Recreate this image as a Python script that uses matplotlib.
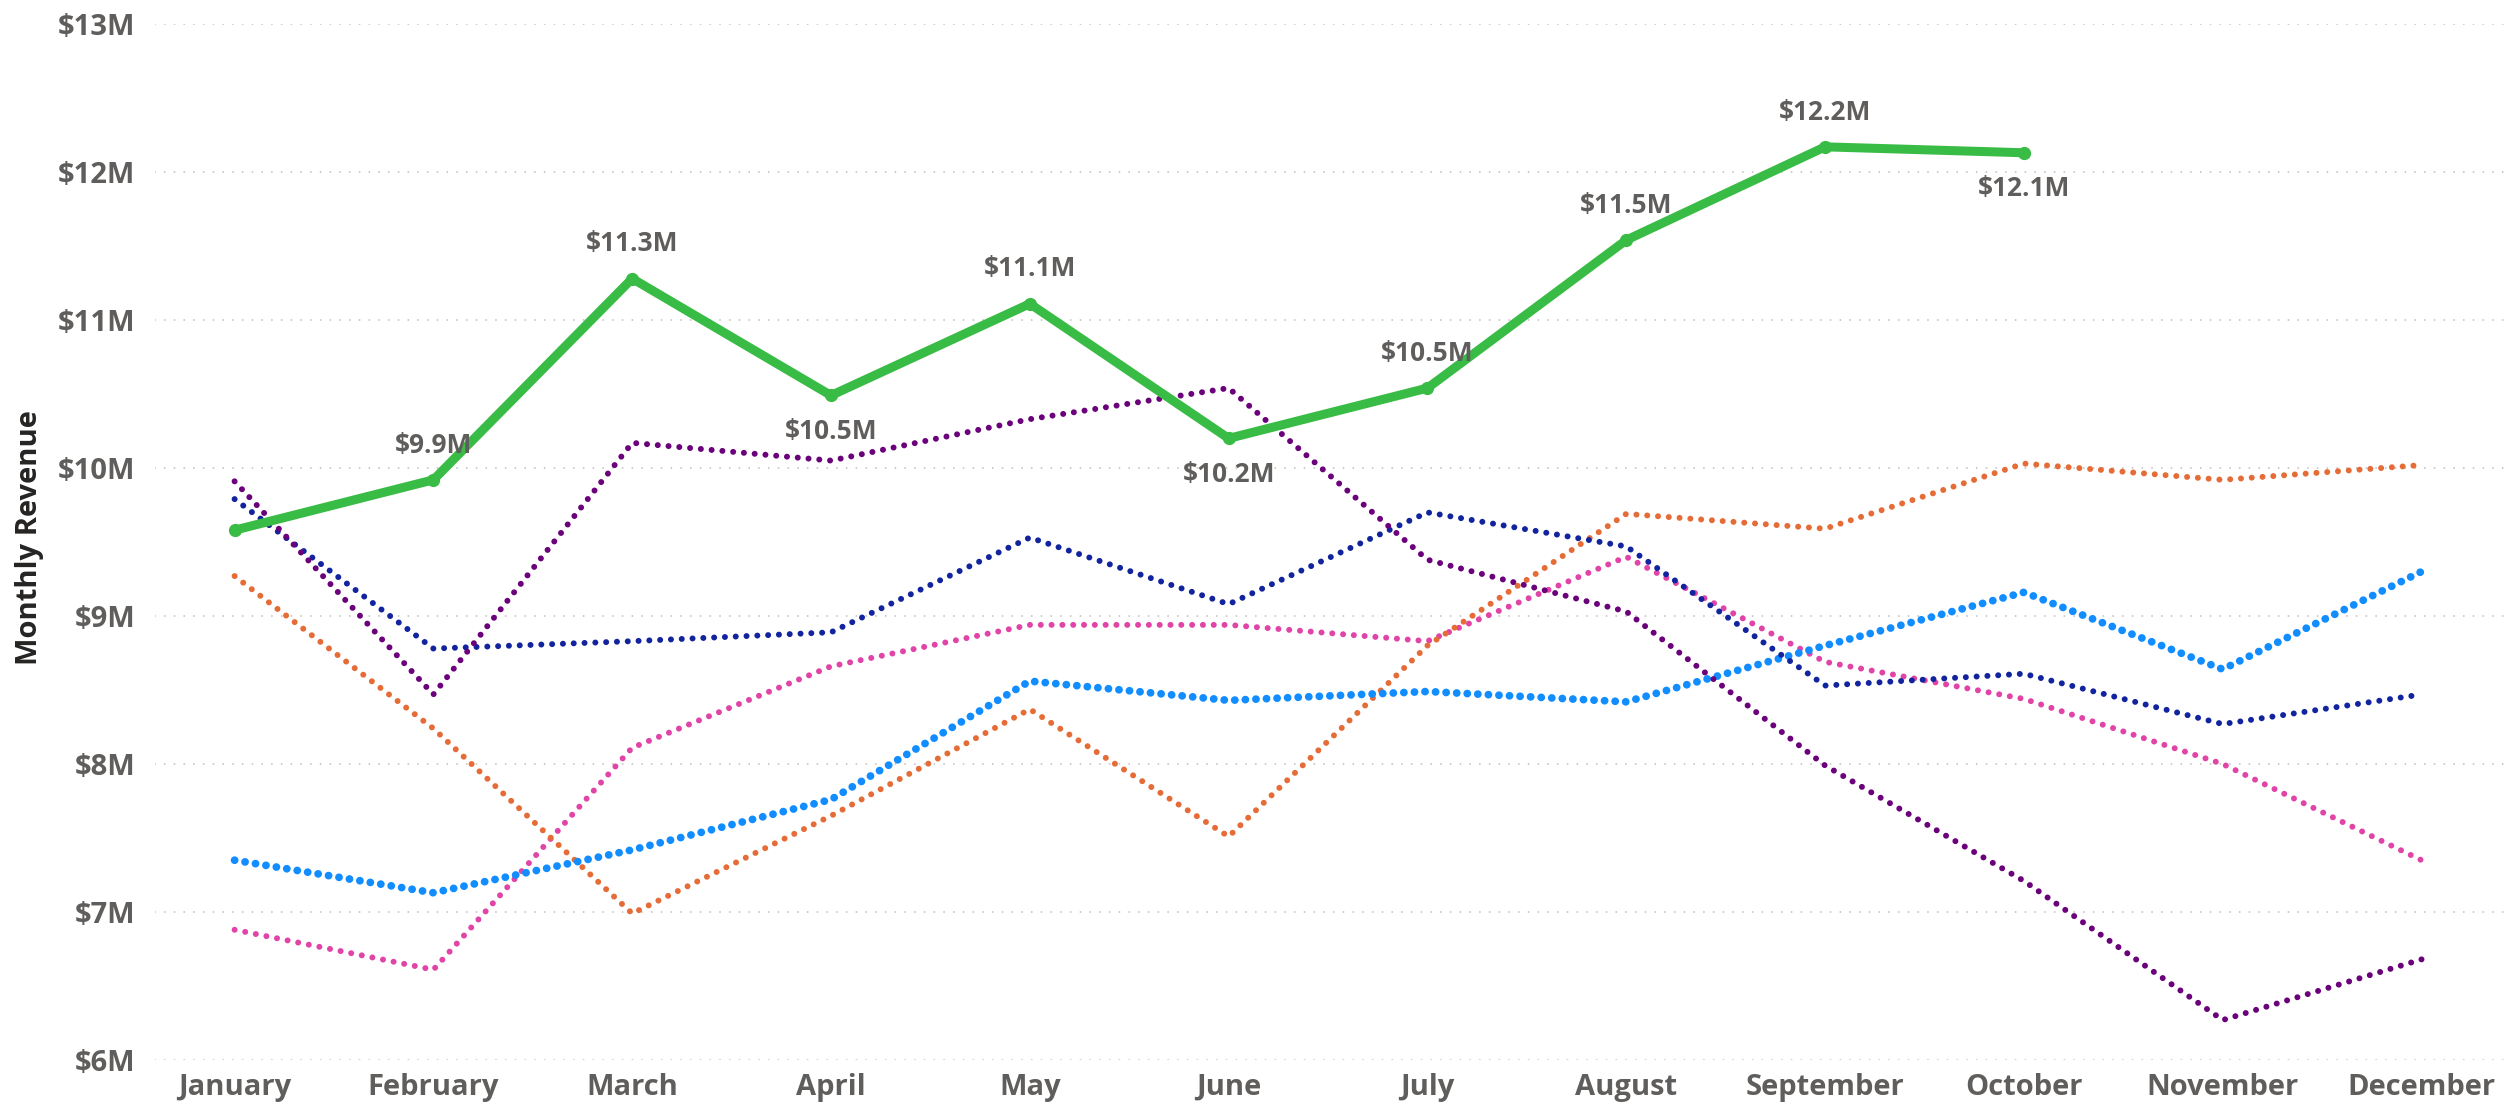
import numpy as np
import matplotlib
matplotlib.use('Agg')
import matplotlib.pyplot as plt
from matplotlib.ticker import FuncFormatter

plt.rcParams['font.family'] = ['Open Sans', 'DejaVu Sans']
plt.rcParams['font.weight'] = 'bold'

months = ["January", "February", "March", "April", "May", "June", "July",
          "August", "September", "October", "November", "December"]

# monthly revenue, $M
current_year = [9.58, 9.92, 11.28, 10.49, 11.11, 10.20, 10.54, 11.54, 12.17, 12.13]
purple_year = [9.91, 8.47, 10.17, 10.05, 10.33, 10.54, 9.38, 9.03, 7.99, 7.21, 6.27, 6.68]
navy_year = [9.79, 8.78, 8.83, 8.89, 9.53, 9.08, 9.70, 9.47, 8.53, 8.61, 8.27, 8.47]
orange_year = [9.27, 8.24, 6.99, 7.65, 8.37, 7.51, 8.80, 9.69, 9.59, 10.03, 9.92, 10.02]
pink_year = [6.88, 6.61, 8.11, 8.66, 8.94, 8.94, 8.83, 9.40, 8.69, 8.44, 8.00, 7.35]
blue_year = [7.35, 7.13, 7.42, 7.76, 8.56, 8.43, 8.49, 8.42, 8.80, 9.16, 8.64, 9.30]

# where the data label of the current year sits (None = hidden)
label_side = [None, "above", "above", "below", "above", "below", "above",
              "above", "above", "below"]

LABEL_GREY = "#605E5C"

fig = plt.figure(figsize=(25.09, 11.11), dpi=100)
ax = fig.add_axes([0.0618, 0.0459, 0.9382, 0.9325])

x = np.arange(len(months))


def dotted(values, color, lw, gap):
    ax.plot(x[:len(values)], values, color=color, lw=lw,
            linestyle=(0, (0.01, gap)), dash_capstyle="round")


dotted(pink_year, "#E044A7", 4.3, 1.8)
dotted(orange_year, "#E66C37", 4.3, 1.8)
dotted(blue_year, "#118DFF", 5.6, 1.35)
dotted(navy_year, "#12239E", 4.3, 1.8)
dotted(purple_year, "#6B007B", 4.3, 1.8)

ax.plot(x[:len(current_year)], current_year, color="#39BC45", lw=6.5,
        marker="o", markersize=8.5, solid_capstyle="round",
        solid_joinstyle="round", zorder=5)

for i, (v, side) in enumerate(zip(current_year, label_side)):
    if side is None:
        continue
    off = 25 if side == "above" else -26
    ax.annotate(f"${v:.1f}M", (i, v), xytext=(0, off), textcoords="offset points",
                ha="center", va="center", fontsize=19, color=LABEL_GREY,
                fontweight="bold", zorder=6)

ax.set_xlim(-0.40, 11.44)
ax.set_ylim(6, 13)
ax.set_yticks(np.arange(6, 14, 1))
ax.yaxis.set_major_formatter(FuncFormatter(lambda v, p: f"${v:.0f}M"))
ax.set_xticks(x)
ax.set_xticklabels(months)

ax.tick_params(axis="both", length=0, labelsize=21, labelcolor=LABEL_GREY)
ax.tick_params(axis="y", pad=14)
ax.tick_params(axis="x", pad=9)

for s in ax.spines.values():
    s.set_visible(False)
ax.yaxis.grid(True, color="#C8C6C4", lw=1.4, linestyle=(0, (0.01, 5)),
              dash_capstyle="round")
ax.set_axisbelow(True)

ax.set_ylabel("Monthly Revenue", fontsize=21, color="#252423", fontweight="bold")
ax.yaxis.set_label_coords(-0.047, 0.504)

fig.savefig("out.png", dpi=100)
